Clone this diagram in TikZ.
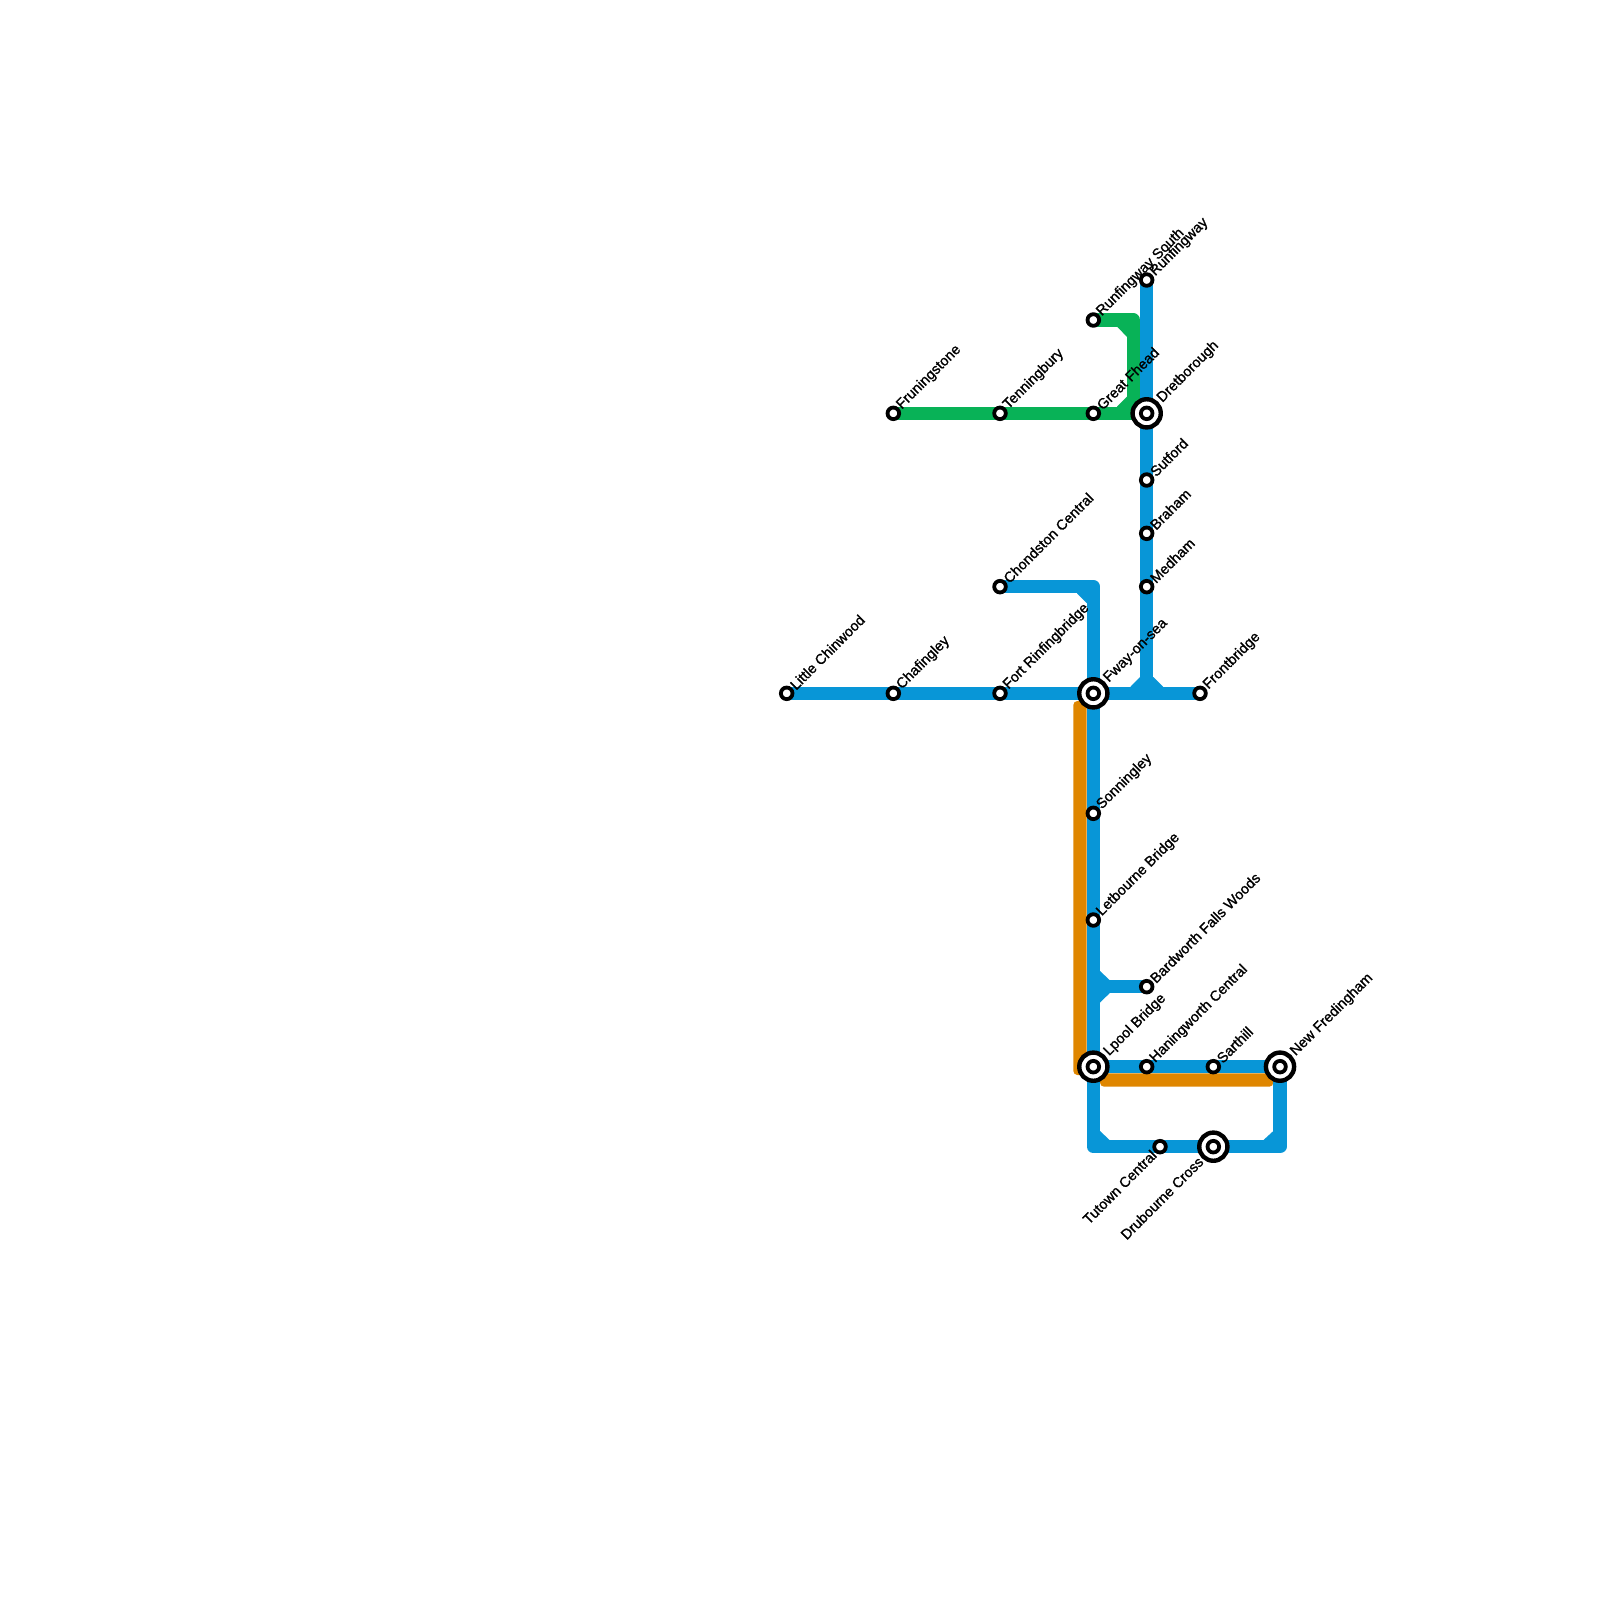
\documentclass[tikz,border=0pt]{standalone}
\usepackage{fontspec}
\setmainfont{Liberation Sans}[FakeBold=1.2]
\usetikzlibrary{backgrounds}
\definecolor{lineblue}{HTML}{0896D7}
\definecolor{linegreen}{HTML}{08B257}
\definecolor{lineorange}{HTML}{DF8600}
\tikzset{
  stn/.style={circle,draw=black,fill=white,line width=1.9pt,minimum size=5.8pt,inner sep=0pt,outer sep=0pt},
  hub/.style={circle,draw=black,fill=white,line width=2.2pt,minimum size=14.1pt,inner sep=0pt,outer sep=0pt},
  lab/.style={font=\fontsize{7.2pt}{8pt}\selectfont,text=black,rotate=45,inner sep=0pt},
  labr/.style={lab,anchor=west},
  labl/.style={lab,anchor=east},
  route/.style={line width=6.67pt,line join=round,line cap=butt},
  blueroute/.style={route,draw=lineblue},
  greenroute/.style={route,draw=linegreen},
  orangebar/.style={fill=lineorange,rounded corners=2pt},
  bluefillet/.style={fill=lineblue},
  greenfillet/.style={fill=linegreen}
}
\newcommand{\smallstn}[4]{\node[stn] (#1) at (#2,#3) {};
  \node[labr] (#1-t) at ([xshift=2.8pt,yshift=3.0pt]#1.center) {#4};}
\newcommand{\hubstn}[4]{\node[hub] (#1) at (#2,#3) {};
  \node[stn] (#1-c) at (#2,#3) {};
  \node[labr] (#1-t) at ([xshift=6.4pt,yshift=6.4pt]#1.center) {#4};}
\begin{document}
\begin{tikzpicture}[x=0.5pt,y=-0.5pt]
\useasboundingbox (0,0) rectangle (1600,1600);
% stations
\smallstn{chin}{786.67}{693.33}{Little Chinwood}
\smallstn{chaf}{893.33}{693.33}{Chafingley}
\smallstn{fort}{1000}{693.33}{Fort Rinfingbridge}
\hubstn{fway}{1093.33}{693.33}{Fway-on-sea}
\smallstn{front}{1200}{693.33}{Frontbridge}
\smallstn{chon}{1000}{586.67}{Chondston Central}
\smallstn{frun}{893.33}{413.33}{Fruningstone}
\smallstn{tenn}{1000}{413.33}{Tenningbury}
\smallstn{fhead}{1093.33}{413.33}{Great Fhead}
\smallstn{runs}{1093.33}{320}{Runfingway South}
\smallstn{runf}{1146.67}{280}{Runfingway}
\hubstn{dret}{1146.67}{413.33}{Dretborough}
\smallstn{sut}{1146.67}{480}{Sutford}
\smallstn{bra}{1146.67}{533.33}{Braham}
\smallstn{med}{1146.67}{586.67}{Medham}
\smallstn{son}{1093.33}{813.33}{Sonningley}
\smallstn{let}{1093.33}{920}{Letbourne Bridge}
\smallstn{bard}{1146.67}{986.67}{Bardworth Falls Woods}
\hubstn{lpool}{1093.33}{1066.67}{Lpool Bridge}
\smallstn{han}{1146.67}{1066.67}{Haningworth Central}
\smallstn{sar}{1213.33}{1066.67}{Sarthill}
\hubstn{newf}{1280}{1066.67}{New Fredingham}
\node[stn] (tut) at (1160,1146.67) {};
\node[labl] (tut-t) at ([xshift=-2.9pt,yshift=-2.9pt]tut.center) {Tutown Central};
\node[hub] (dru) at (1213.33,1146.67) {};
\node[stn] (dru-c) at (1213.33,1146.67) {};
\node[labl] (dru-t) at ([xshift=-6.2pt,yshift=-6.2pt]dru.center) {Drubourne Cross};
% bends
\coordinate (bendchon) at (1093.33,586.67);
\coordinate (bendbard) at (1093.33,986.67);
\coordinate (bendsw) at (1093.33,1146.67);
\coordinate (bendse) at (1280,1146.67);
\coordinate (juncfront) at (1146.67,693.33);
\coordinate (bendrun) at (1133.33,320);
\coordinate (bendgreen) at (1133.33,413.33);
\begin{scope}[on background layer]
\fill[white] (0,0) rectangle (1600,1600);
% orange
\fill[orangebar] (1073.33,701) rectangle (1086.67,1075);
\fill[orangebar] (1100,1073.33) rectangle (1273.33,1086.67);
% green
\draw[greenroute] (frun.center) -- (tenn.center) -- (fhead.center) -- (dret.center);
\draw[greenroute] (runs.center) -- (bendrun) -- (bendgreen);
\fill[greenfillet] (1117,326.67) -- (1122,322) -- (1131,322) -- (1131,340) -- (1126.67,336.5) -- cycle;
\fill[greenfillet] (1117,406.67) -- (1122,410) -- (1131,410) -- (1131,392) -- (1126.67,397) -- cycle;
% blue
\draw[blueroute] (chin.center) -- (chaf.center) -- (fort.center) -- (fway.center) -- (juncfront) -- (front.center);
\draw[blueroute] (chon.center) -- (bendchon) -- (fway.center) -- (son.center) -- (let.center) -- (lpool.center) -- (bendsw) -- (tut.center) -- (dru.center) -- (bendse) -- (newf.center) -- (sar.center) -- (han.center) -- (lpool.center);
\draw[blueroute] (runf.center) -- (dret.center) -- (sut.center) -- (bra.center) -- (med.center) -- (juncfront);
\draw[blueroute] (bendbard) -- (bard.center);
\fill[bluefillet] (1077,593.33) -- (1077,590) -- (1090,590) -- (1090,603) -- (1086.67,603) -- cycle;
\fill[bluefillet] (1130.5,686.67) -- (1130.5,690) -- (1143,690) -- (1143,677) -- (1140,677) -- cycle;
\fill[bluefillet] (1163,686.67) -- (1163,690) -- (1150,690) -- (1150,677) -- (1153.33,677) -- cycle;
\fill[bluefillet] (1100,971) -- (1097,971) -- (1097,983) -- (1109.5,983) -- (1109.5,980) -- cycle;
\fill[bluefillet] (1100,1002.5) -- (1097,1002.5) -- (1097,990) -- (1109.5,990) -- (1109.5,993.33) -- cycle;
\fill[bluefillet] (1100,1131) -- (1097,1131) -- (1097,1143) -- (1109.5,1143) -- (1109.5,1140) -- cycle;
\fill[bluefillet] (1273.33,1131) -- (1276,1131) -- (1276,1143) -- (1263.5,1143) -- (1263.5,1140) -- cycle;
\end{scope}
\end{tikzpicture}
\end{document}
